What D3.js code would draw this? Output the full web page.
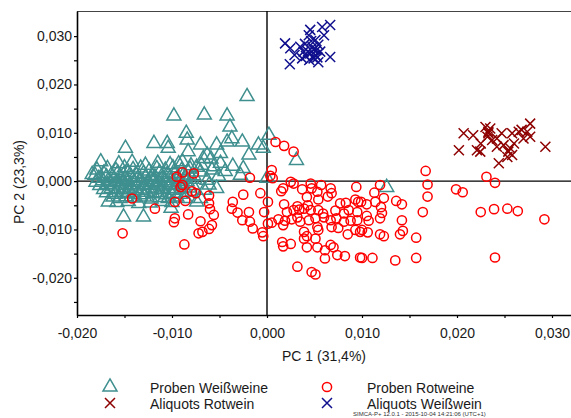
<!DOCTYPE html>
<html>
<head>
<meta charset="utf-8">
<script src="https://cdn.jsdelivr.net/npm/d3@7"></script>
<style>
  html, body { margin: 0; padding: 0; background: #fff; }
  svg { display: block; font-family: "Liberation Sans", Arial, sans-serif; }
</style>
</head>
<body>
<svg id="chart" width="571" height="418"></svg>
<script>
// PCA score plot, PC1 vs PC2 (t1/t2 scores)

// Proben Weißweine
const probenWeiss = [
  [-0.0021, 0.0175], [-0.0098, 0.0135], [-0.0066, 0.0137], [-0.0042, 0.0135], [-0.0039, 0.0112],
  [0.0002, 0.0095], [-0.0085, 0.0099], [-0.0084, 0.0085], [-0.0119, 0.0078], [-0.0105, 0.0078],
  [-0.0149, 0.0068], [-0.0175, 0.0040], [-0.0151, -0.0074], [-0.0130, -0.0074], [-0.0104, 0.0068],
  [-0.0070, 0.0075], [-0.0053, 0.0075], [-0.0042, 0.0081], [-0.0037, 0.0088], [-0.0026, 0.0081],
  [-0.0009, 0.0075], [-0.0004, 0.0068], [-0.0019, 0.0054], [-0.0049, 0.0057], [-0.0063, 0.0054],
  [-0.0049, 0.0037], [-0.0056, 0.0030], [-0.0025, 0.0026], [0.0031, 0.0043], [0.0000, 0.0006],
  [0.0126, -0.0013], [-0.0083, 0.0061], [-0.0067, 0.0047], [-0.0058, 0.0023], [-0.0028, 0.0012],
  [-0.0089, 0.0040], [-0.0070, 0.0019], [-0.0063, 0.0002], [-0.0053, -0.0015], [-0.0061, -0.0008],
  [-0.0070, -0.0036], [-0.0074, -0.0043], [-0.0086, -0.0036], [-0.0181, 0.0012], [-0.0167, -0.0043],
  [-0.0135, -0.0046], [-0.0101, -0.0056], [-0.0059, 0.0046], [-0.0069, 0.0033], [-0.0044, 0.0020],
  [-0.0051, 0.0010], [-0.0036, 0.0031], [-0.0066, -0.0019],
  [-0.0156, 0.0036], [-0.0142, 0.0039], [-0.0128, 0.0033], [-0.0115, 0.0037], [-0.0102, 0.0034],
  [-0.0093, 0.0036], [-0.0080, 0.0032],
  [-0.0179, 0.0023], [-0.0168, 0.0026], [-0.0159, 0.0022], [-0.0150, 0.0028], [-0.0141, 0.0024],
  [-0.0133, 0.0027], [-0.0124, 0.0021], [-0.0116, 0.0026], [-0.0107, 0.0023], [-0.0099, 0.0028],
  [-0.0090, 0.0022], [-0.0081, 0.0025], [-0.0074, 0.0029],
  [-0.0184, 0.0014], [-0.0172, 0.0016], [-0.0164, 0.0012], [-0.0157, 0.0017], [-0.0151, 0.0013],
  [-0.0146, 0.0018], [-0.0138, 0.0014], [-0.0130, 0.0016], [-0.0121, 0.0012], [-0.0113, 0.0018],
  [-0.0105, 0.0014], [-0.0097, 0.0016], [-0.0088, 0.0013], [-0.0083, 0.0019], [-0.0077, 0.0011],
  [-0.0177, 0.0006], [-0.0169, 0.0009], [-0.0161, 0.0005], [-0.0154, 0.0008], [-0.0149, 0.0004],
  [-0.0143, 0.0009], [-0.0136, 0.0006], [-0.0128, 0.0008], [-0.0122, 0.0004], [-0.0118, 0.0009],
  [-0.0110, 0.0006], [-0.0102, 0.0008], [-0.0094, 0.0005], [-0.0086, 0.0007], [-0.0079, 0.0004],
  [-0.0180, -0.0002], [-0.0173, 0.0001], [-0.0165, -0.0003], [-0.0158, 0.0000], [-0.0152, -0.0001],
  [-0.0147, 0.0002], [-0.0140, -0.0002], [-0.0133, 0.0001], [-0.0126, -0.0003], [-0.0119, 0.0000],
  [-0.0114, -0.0002], [-0.0107, 0.0001], [-0.0100, -0.0003], [-0.0092, 0.0000], [-0.0084, -0.0001],
  [-0.0176, -0.0009], [-0.0168, -0.0007], [-0.0162, -0.0010], [-0.0155, -0.0006], [-0.0149, -0.0009],
  [-0.0144, -0.0007], [-0.0137, -0.0010], [-0.0130, -0.0007], [-0.0123, -0.0009], [-0.0116, -0.0006],
  [-0.0109, -0.0010], [-0.0103, -0.0007], [-0.0096, -0.0009], [-0.0089, -0.0006], [-0.0078, -0.0009],
  [-0.0172, -0.0017], [-0.0164, -0.0015], [-0.0157, -0.0018], [-0.0151, -0.0014], [-0.0145, -0.0017],
  [-0.0139, -0.0015], [-0.0132, -0.0019], [-0.0125, -0.0016], [-0.0118, -0.0014], [-0.0111, -0.0018],
  [-0.0104, -0.0015], [-0.0097, -0.0019], [-0.0090, -0.0016], [-0.0082, -0.0014],
  [-0.0169, -0.0024], [-0.0160, -0.0027], [-0.0153, -0.0023], [-0.0147, -0.0026], [-0.0140, -0.0024],
  [-0.0134, -0.0028], [-0.0127, -0.0023], [-0.0120, -0.0026], [-0.0112, -0.0024], [-0.0106, -0.0028],
  [-0.0098, -0.0025], [-0.0091, -0.0027], [-0.0085, -0.0023],
  [-0.0162, -0.0033], [-0.0155, -0.0036], [-0.0148, -0.0032], [-0.0140, -0.0035], [-0.0129, -0.0033],
  [-0.0122, -0.0037], [-0.0113, -0.0034], [-0.0104, -0.0036], [-0.0095, -0.0033],
  [-0.0158, -0.0044], [-0.0146, -0.0042], [-0.0123, -0.0045], [-0.0110, -0.0042], [-0.0100, -0.0044]
];

// Proben Rotweine
const probenRot = [
  [0.0231, 0.0009], [0.0240, -0.00035], [0.0199, -0.0017], [0.0206, -0.0023], [0.0225, -0.0064],
  [0.0239, -0.0058], [0.0253, -0.0057], [0.0264, -0.0062], [0.0292, -0.0079], [0.0240, -0.0158],
  [0.0167, 0.0021], [0.0169, -0.0007], [0.0169, -0.0032], [0.0164, -0.0064], [0.0119, -0.0008],
  [0.0113, -0.0024], [0.0123, -0.0035], [0.0136, -0.0041], [0.0142, -0.0048], [0.0099, -0.0043],
  [0.0105, -0.0048], [0.0114, -0.0043], [0.0120, -0.0054], [0.0121, -0.0066], [0.0105, -0.0072],
  [0.0119, -0.0077], [0.0107, -0.0082], [0.0142, -0.0081], [0.0100, -0.0101], [0.0106, -0.0106],
  [0.0119, -0.0110], [0.0123, -0.0114], [0.0140, -0.0110], [0.0143, -0.0103], [0.0157, -0.0117],
  [0.0100, -0.0159], [0.0111, -0.0159], [0.0135, -0.0164], [0.0157, -0.0159],
  [0.0009, 0.0081], [0.0018, 0.0073], [0.0028, 0.0061], [0.0005, 0.0023], [0.00035, 0.0011],
  [0.0006, 0.0006], [0.0025, -0.00015], [0.0028, -0.0005], [0.0017, -0.0015], [0.0015, -0.0021],
  [0.0037, -0.0017], [0.0046, -0.0005], [0.0047, -0.0015], [0.0057, -0.0008], [0.0053, -0.0022],
  [0.0067, -0.0015], [0.0068, -0.0025], [0.0064, -0.0032], [0.0094, -0.0012], [0.0042, -0.0033],
  [0.0054, -0.0038], [0.0001, -0.0043], [0.0018, -0.0048], [0.0032, -0.0052], [0.0043, -0.0050],
  [0.0077, -0.0046], [0.0083, -0.0045], [0.0093, -0.0038], [0.0096, -0.0043], [-0.0003, -0.0064],
  [0.0021, -0.0064], [0.0028, -0.0060], [0.0034, -0.0059], [0.0039, -0.0057], [0.0046, -0.0060],
  [0.0054, -0.0060], [0.0059, -0.0067], [0.0072, -0.0061], [0.0081, -0.0067], [0.0086, -0.0060],
  [0.0095, -0.0064], [0.0012, -0.0079], [0.0019, -0.0082], [0.0026, -0.0079], [0.0032, -0.0075],
  [0.0035, -0.0084], [0.0044, -0.0081], [0.0051, -0.0077], [0.0060, -0.0075], [0.0067, -0.0081],
  [0.0073, -0.0077], [0.0081, -0.0084], [0.0088, -0.0082], [0.0095, -0.0081], [0.0001, -0.0088],
  [0.0017, -0.0091], [0.0053, -0.0095], [0.0054, -0.0101], [0.0068, -0.0095], [0.0075, -0.0097],
  [0.0085, -0.0110], [0.0093, -0.0101], [0.0098, -0.0105], [0.0039, -0.0105], [0.0042, -0.0114],
  [0.0039, -0.0119], [0.0051, -0.0119], [-0.0004, -0.0114], [0.0016, -0.0126], [0.0025, -0.0130],
  [0.0017, -0.0135], [0.0042, -0.0137], [0.0053, -0.0137], [0.0067, -0.0132], [0.0070, -0.0137],
  [0.0061, -0.0143], [0.0061, -0.0160], [0.0074, -0.0153], [0.0082, -0.0155], [0.0098, -0.0158],
  [0.0032, -0.0177], [0.0047, -0.0188], [0.0051, -0.0193],
  [-0.0077, 0.0016], [-0.0089, 0.0018], [-0.0018, 0.0007], [-0.0089, -0.0008], [-0.0079, -0.0021],
  [-0.0075, -0.0025], [-0.0086, -0.0041], [-0.0061, -0.0030], [-0.0025, -0.0028], [-0.0007, -0.0025],
  [-0.0036, -0.0043], [-0.0037, -0.0057], [-0.0031, -0.0065], [-0.0019, -0.0064], [-0.0061, -0.0046],
  [-0.0060, -0.0058], [-0.0056, -0.0070], [-0.0083, -0.0069], [-0.0070, -0.0083], [-0.0018, -0.0084],
  [-0.0015, -0.0098], [-0.0061, -0.0099], [-0.0068, -0.0105], [-0.0072, -0.0108], [-0.0005, -0.0106],
  [0.0005, -0.0086], [-0.0142, -0.0036], [-0.0118, -0.0057], [-0.0152, -0.0108], [-0.0097, -0.0077],
  [-0.0098, -0.0085], [-0.0095, 0.0009], [-0.0091, -0.0012], [-0.0097, -0.0043], [-0.0026, -0.0081],
  [-0.0058, -0.0091], [-0.0087, -0.0131]
];

// Aliquots Rotwein
const aliquotsRot = [
  [0.0207, 0.0099], [0.0202, 0.0064], [0.0217, 0.0095], [0.0221, 0.0064], [0.02245, 0.0061],
  [0.0230, 0.0112], [0.0233, 0.0102], [0.0235, 0.0109], [0.0232, 0.0092], [0.0237, 0.0085],
  [0.0242, 0.0071], [0.0244, 0.0037], [0.0247, 0.0099], [0.0249, 0.00745], [0.0254, 0.0061],
  [0.0258, 0.0099], [0.0260, 0.0078], [0.0258, 0.0054], [0.0265, 0.0102], [0.0268, 0.0106],
  [0.0270, 0.0088], [0.0277, 0.0119], [0.0277, 0.0092], [0.0293, 0.0071], [0.0253, 0.0050],
  [0.0256, 0.0068], [0.0233, 0.0099], [0.0242, 0.0088], [0.0274, 0.0102], [0.0225, 0.0078]
];

// Aliquots Weißwein
const aliquotsWeiss = [
  [0.0019, 0.0285], [0.00245, 0.0275], [0.0024, 0.0242], [0.0029, 0.0261], [0.0035, 0.0278],
  [0.00385, 0.0268], [0.0041, 0.0259], [0.0044, 0.0302], [0.00455, 0.0313], [0.00455, 0.0264],
  [0.0048, 0.0277], [0.0049, 0.0254], [0.0051, 0.0292], [0.0051, 0.0261], [0.0052, 0.0271],
  [0.0054, 0.0282], [0.0056, 0.0268], [0.0058, 0.0319], [0.0060, 0.0302], [0.00665, 0.0323],
  [0.00665, 0.0257], [0.00445, 0.02505], [0.0040, 0.0284], [0.0054, 0.0246], [0.00465, 0.0290],
  [0.0043, 0.0268], [0.0049, 0.0272], [0.0053, 0.0256], [0.0037, 0.0254]
];

// Axis extents and tick values
const xDomain = [-0.020, 0.0320];
const yDomain = [-0.0277, 0.0352];
const xTicks = [-0.020, -0.015, -0.010, -0.005, 0.000, 0.005, 0.010, 0.015, 0.020, 0.025, 0.030];
const yTicks = [-0.025, -0.020, -0.015, -0.010, -0.005, 0.000, 0.005, 0.010, 0.015, 0.020, 0.025, 0.030];
const xLabelTicks = [-0.020, -0.010, 0.000, 0.010, 0.020, 0.030];
const yLabelTicks = [-0.020, -0.010, 0.000, 0.010, 0.020, 0.030];

const colors = {
  weiss: "#3f8f8f",
  rot: "#ff0000",
  aliqRot: "#8e0000",
  aliqWeiss: "#10108f"
};

const svg = d3.select("#chart");
const plot = { left: 77, top: 11, right: 571, bottom: 315 };

const x = d3.scaleLinear().domain(xDomain).range([plot.left, plot.right]);
const y = d3.scaleLinear().domain(yDomain).range([plot.bottom, plot.top]);

const de = d3.formatLocale({ decimal: ",", thousands: ".", grouping: [3], currency: ["", "€"], minus: "-" });
const fmt = de.format(".3f");
const isLabel = (arr) => (v) => arr.some(t => Math.abs(t - v) < 1e-9);

svg.append("defs").append("clipPath").attr("id", "plotClip")
  .append("rect")
  .attr("x", plot.left).attr("y", plot.top)
  .attr("width", plot.right - plot.left).attr("height", plot.bottom - plot.top);

// top frame line
svg.append("line")
  .attr("x1", plot.left).attr("x2", plot.right)
  .attr("y1", plot.top + 0.5).attr("y2", plot.top + 0.5)
  .attr("stroke", "#444").attr("stroke-width", 1);

// zero lines
svg.append("line")
  .attr("x1", x(0)).attr("x2", x(0))
  .attr("y1", plot.top).attr("y2", plot.bottom)
  .attr("stroke", "#000").attr("stroke-width", 1.4);
svg.append("line")
  .attr("x1", plot.left).attr("x2", plot.right)
  .attr("y1", y(0)).attr("y2", y(0))
  .attr("stroke", "#000").attr("stroke-width", 1.4);

// axes
const xAxis = d3.axisBottom(x)
  .tickValues(xTicks)
  .tickSize(3).tickSizeOuter(0).tickPadding(10)
  .tickFormat(v => isLabel(xLabelTicks)(v) ? fmt(v) : "");
const yAxis = d3.axisLeft(y)
  .tickValues(yTicks)
  .tickSize(3).tickSizeOuter(0).tickPadding(2)
  .tickFormat(v => isLabel(yLabelTicks)(v) ? fmt(v) : "");

const gx = svg.append("g").attr("transform", `translate(0,${plot.bottom})`).call(xAxis);
const gy = svg.append("g").attr("transform", `translate(${plot.left},0)`).call(yAxis);
[gx, gy].forEach(g => {
  g.select(".domain").attr("stroke", "#000").attr("stroke-width", 1.6);
  g.selectAll(".tick line").attr("stroke", "#000").attr("stroke-width", 1.2);
  g.selectAll(".tick text")
    .attr("fill", "#1a1a1a")
    .style("font-size", "14px")
    .style("font-family", "'Liberation Sans', Arial, sans-serif");
});

// axis titles
svg.append("text")
  .attr("x", 324).attr("y", 361)
  .attr("text-anchor", "middle")
  .attr("fill", "#1a1a1a").style("font-size", "14px")
  .text("PC 1 (31,4%)");
svg.append("text")
  .attr("transform", "translate(24,182) rotate(-90)")
  .attr("text-anchor", "middle")
  .attr("fill", "#1a1a1a").style("font-size", "14px")
  .text("PC 2 (23,3%)");

// marker shapes
const triPath = (s) => {
  const h = s * Math.sqrt(3) / 2;
  return `M0,${-h * 2 / 3}L${s / 2},${h / 3}L${-s / 2},${h / 3}Z`;
};
const crossPath = (r) => `M${-r},${-r}L${r},${r}M${-r},${r}L${r},${-r}`;

const marks = svg.append("g").attr("clip-path", "url(#plotClip)");

marks.append("g").selectAll("path")
  .data(probenWeiss).join("path")
  .attr("d", triPath(14))
  .attr("transform", d => `translate(${x(d[0])},${y(d[1])})`)
  .attr("fill", "none").attr("stroke", colors.weiss).attr("stroke-width", 1.5);

marks.append("g").selectAll("circle")
  .data(probenRot).join("circle")
  .attr("cx", d => x(d[0])).attr("cy", d => y(d[1])).attr("r", 4.6)
  .attr("fill", "none").attr("stroke", colors.rot).attr("stroke-width", 1.5);

marks.append("g").selectAll("path")
  .data(aliquotsRot).join("path")
  .attr("d", crossPath(5))
  .attr("transform", d => `translate(${x(d[0])},${y(d[1])})`)
  .attr("fill", "none").attr("stroke", colors.aliqRot).attr("stroke-width", 1.5);

marks.append("g").selectAll("path")
  .data(aliquotsWeiss).join("path")
  .attr("d", crossPath(5))
  .attr("transform", d => `translate(${x(d[0])},${y(d[1])})`)
  .attr("fill", "none").attr("stroke", colors.aliqWeiss).attr("stroke-width", 1.5);

// legend
const legendItems = [
  { label: "Proben Weißweine", kind: "tri", color: colors.weiss, mx: 110, my: 387, tx: 150, ty: 393 },
  { label: "Aliquots Rotwein", kind: "x", color: colors.aliqRot, mx: 110, my: 403, tx: 150, ty: 409 },
  { label: "Proben Rotweine", kind: "circle", color: colors.rot, mx: 327, my: 387, tx: 367, ty: 393 },
  { label: "Aliquots Weißwein", kind: "x", color: colors.aliqWeiss, mx: 327, my: 403, tx: 367, ty: 409 }
];
const lg = svg.append("g");
legendItems.forEach(it => {
  if (it.kind === "circle") {
    lg.append("circle").attr("cx", it.mx).attr("cy", it.my).attr("r", 4.6)
      .attr("fill", "none").attr("stroke", it.color).attr("stroke-width", 1.5);
  } else {
    lg.append("path")
      .attr("d", it.kind === "tri" ? triPath(14) : crossPath(5))
      .attr("transform", `translate(${it.mx},${it.my})`)
      .attr("fill", "none").attr("stroke", it.color).attr("stroke-width", 1.5);
  }
  lg.append("text").attr("x", it.tx).attr("y", it.ty)
    .attr("fill", "#1a1a1a").style("font-size", "14px").text(it.label);
});

// software stamp
svg.append("text")
  .attr("x", 353).attr("y", 416)
  .attr("fill", "#333").style("font-size", "6px")
  .text("SIMCA-P+ 12.0.1 - 2015-10-04 14:21:06 (UTC+1)");
</script>
</body>
</html>
